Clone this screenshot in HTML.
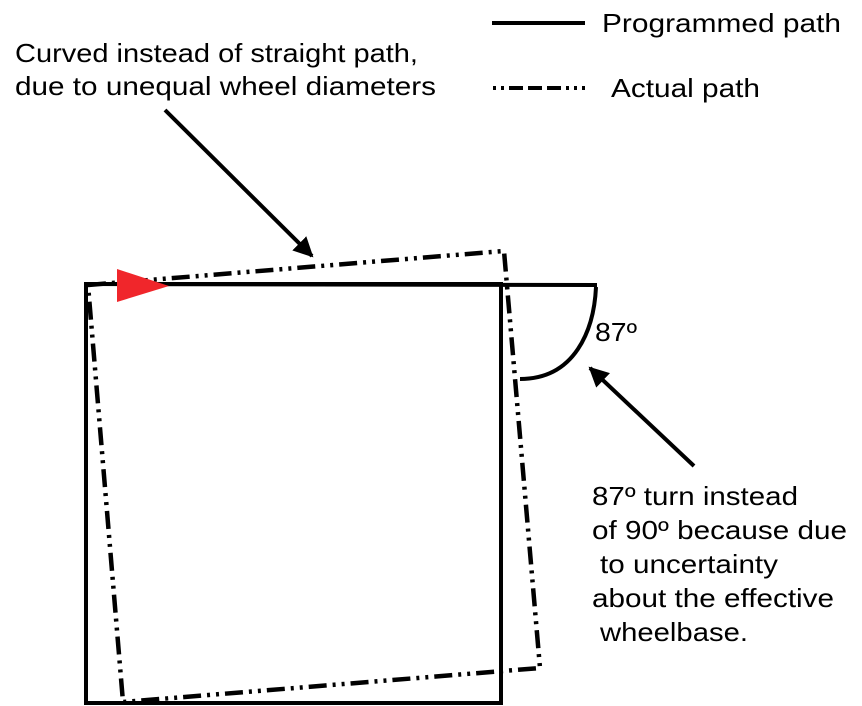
<!DOCTYPE html>
<html><head><meta charset="utf-8"><style>
html,body{margin:0;padding:0;background:#fff;}
svg{display:block;}
text{font-family:"Liberation Sans",Arial,sans-serif;font-size:26px;fill:#000;}
</style></head><body>
<svg width="862" height="706" viewBox="0 0 862 706" xmlns="http://www.w3.org/2000/svg">
<defs>
<marker id="ah" viewBox="0 0 10 10" refX="9" refY="5" markerWidth="5" markerHeight="5" orient="auto" markerUnits="strokeWidth">
<path d="M0,0 L10,5 L0,10 z" fill="#000"/>
</marker>
</defs>
<line x1="492" y1="23" x2="585" y2="23" stroke="#000" stroke-width="4"/>
<text x="602" y="32" textLength="239" lengthAdjust="spacingAndGlyphs">Programmed path</text>
<line x1="493" y1="88" x2="587" y2="88" stroke="#000" stroke-width="4" stroke-dasharray="3 5 3 5 14 5 14 5 14 5 3 5 3 5 3"/>
<text x="611" y="97" textLength="149" lengthAdjust="spacingAndGlyphs">Actual path</text>
<text x="15" y="62" textLength="403" lengthAdjust="spacingAndGlyphs">Curved instead of straight path,</text>
<text x="15" y="95" textLength="421" lengthAdjust="spacingAndGlyphs">due to unequal wheel diameters</text>
<path d="M86,284 L597,285" stroke="#000" stroke-width="4" fill="none"/>
<rect x="86" y="284" width="415" height="419" stroke="#000" stroke-width="4" fill="none"/>
<path d="M596,287 C594,330 575,379 520,379" stroke="#000" stroke-width="4" fill="none"/>
<path d="M88,285 L504,251 L540,668 L123,702 Z" stroke="#000" stroke-width="4.5" fill="none" stroke-dasharray="18 6 3 6 3 6"/>
<polygon points="117,269 169,286 117,302" fill="#f0262b"/>
<line x1="165" y1="110" x2="312" y2="256" stroke="#000" stroke-width="4" marker-end="url(#ah)"/>
<line x1="694" y1="466" x2="590" y2="368" stroke="#000" stroke-width="4" marker-end="url(#ah)"/>
<text x="595" y="341" textLength="42" lengthAdjust="spacingAndGlyphs">87º</text>
<text x="592" y="505" textLength="206" lengthAdjust="spacingAndGlyphs">87º turn instead</text>
<text x="592" y="539" textLength="255" lengthAdjust="spacingAndGlyphs">of 90º because due</text>
<text x="600" y="573" textLength="178" lengthAdjust="spacingAndGlyphs">to uncertainty</text>
<text x="592" y="607" textLength="242" lengthAdjust="spacingAndGlyphs">about the effective</text>
<text x="600" y="641" textLength="148" lengthAdjust="spacingAndGlyphs">wheelbase.</text>
</svg>
</body></html>
